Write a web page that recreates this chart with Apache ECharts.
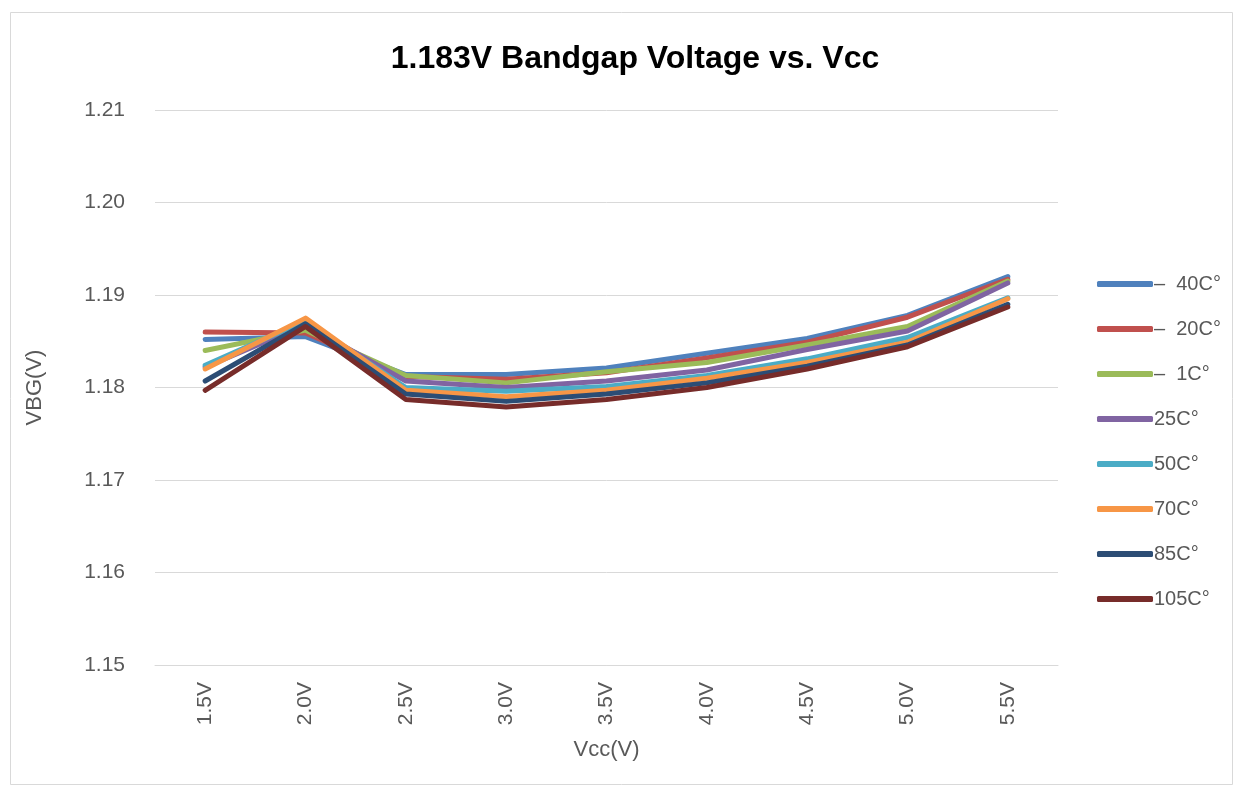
<!DOCTYPE html>
<html>
<head>
<meta charset="utf-8">
<script src="https://cdn.jsdelivr.net/npm/echarts@6/dist/echarts.min.js"></script>
<style>
  html, body { margin: 0; padding: 0; background: #ffffff; }
  #chart { width: 1238px; height: 790px; }
</style>
</head>
<body>
<div id="chart"></div>
<script>
// Supply voltage steps
const vccLabels = ['1.5V', '2.0V', '2.5V', '3.0V', '3.5V', '4.0V', '4.5V', '5.0V', '5.5V'];

// Legend names for each temperature curve
const seriesNames = ['–  40C°', '–  20C°', '–  1C°', '25C°', '50C°', '70C°', '85C°', '105C°'];

// Measured bandgap voltage (V) per temperature
const vbgMinus40 = [1.1852, 1.1855, 1.1814, 1.1814, 1.1821, 1.1837, 1.1853, 1.1878, 1.1920];
const vbgMinus20 = [1.1860, 1.1859, 1.1812, 1.1809, 1.1816, 1.1832, 1.1849, 1.1876, 1.1917];
const vbgMinus1  = [1.1840, 1.1862, 1.1813, 1.1805, 1.1817, 1.1827, 1.1846, 1.1866, 1.1915];
const vbg25      = [1.1822, 1.1868, 1.1807, 1.1800, 1.1807, 1.1819, 1.1841, 1.1861, 1.1913];
const vbg50      = [1.1824, 1.1872, 1.1800, 1.1796, 1.1801, 1.1813, 1.1831, 1.1854, 1.1897];
const vbg70      = [1.1820, 1.1875, 1.1797, 1.1790, 1.1797, 1.1810, 1.1827, 1.1849, 1.1896];
const vbg85      = [1.1807, 1.1869, 1.1793, 1.1785, 1.1793, 1.1805, 1.1823, 1.1846, 1.1890];
const vbg105     = [1.1797, 1.1866, 1.1787, 1.1779, 1.1787, 1.1800, 1.1820, 1.1844, 1.1887];

// Y axis range
const yMin = 1.15, yMax = 1.21, yStep = 0.01;

const seriesValues = [vbgMinus40, vbgMinus20, vbgMinus1, vbg25, vbg50, vbg70, vbg85, vbg105];
const palette = ['#4F81BD', '#C0504D', '#9BBB59', '#8064A2', '#4BACC6', '#F79646', '#2C4D75', '#772C2A'];

const fontFamily = '"Liberation Sans", "DejaVu Sans", sans-serif';

const chart = echarts.init(document.getElementById('chart'), null, { renderer: 'canvas' });

chart.setOption({
  animation: false,
  backgroundColor: '#ffffff',
  color: palette,
  graphic: [{
    type: 'rect',
    shape: { x: 10.5, y: 12.5, width: 1222, height: 772 },
    style: { fill: 'none', stroke: '#d9d9d9', lineWidth: 1 },
    silent: true
  }],
  title: {
    text: '1.183V Bandgap Voltage vs. Vcc',
    left: 630,
    textAlign: 'center',
    top: 38,
    textStyle: { fontFamily: fontFamily, fontSize: 32, fontWeight: 'bold', color: '#000000' }
  },
  grid: { left: 155, right: 180, top: 110, bottom: 125, outerBoundsMode: 'none' },
  legend: {
    orient: 'vertical',
    left: 1092,
    top: 269,
    icon: 'roundRect',
    itemWidth: 56,
    itemHeight: 6,
    itemGap: 25,
    textStyle: { fontFamily: fontFamily, fontSize: 20, color: '#595959', lineHeight: 20, padding: [0, 0, 0, -4] },
    data: seriesNames
  },
  xAxis: {
    type: 'category',
    data: vccLabels,
    boundaryGap: true,
    name: 'Vcc(V)',
    nameLocation: 'middle',
    nameGap: 74,
    nameTextStyle: { fontFamily: fontFamily, fontSize: 22, color: '#595959' },
    axisLine: { show: true, lineStyle: { color: '#d9d9d9', width: 1 } },
    axisTick: { show: false },
    axisLabel: { rotate: 90, margin: 17, fontFamily: fontFamily, fontSize: 21, color: '#595959' },
    splitLine: { show: false }
  },
  yAxis: {
    type: 'value',
    min: yMin,
    max: yMax,
    interval: yStep,
    name: 'VBG(V)',
    nameLocation: 'middle',
    nameGap: 109,
    nameRotate: 90,
    nameTextStyle: { fontFamily: fontFamily, fontSize: 22, color: '#595959' },
    axisLine: { show: false },
    axisTick: { show: false },
    axisLabel: {
      margin: 30,
      fontFamily: fontFamily,
      fontSize: 21,
      color: '#595959',
      formatter: v => v.toFixed(2)
    },
    splitLine: { show: true, lineStyle: { color: '#d9d9d9', width: 1 } }
  },
  series: seriesNames.map((name, i) => ({
    name: name,
    type: 'line',
    data: seriesValues[i],
    showSymbol: false,
    symbol: 'none',
    lineStyle: { width: 5, color: palette[i], cap: 'round', join: 'round' },
    itemStyle: { color: palette[i] },
    emphasis: { disabled: true }
  }))
});
</script>
</body>
</html>
